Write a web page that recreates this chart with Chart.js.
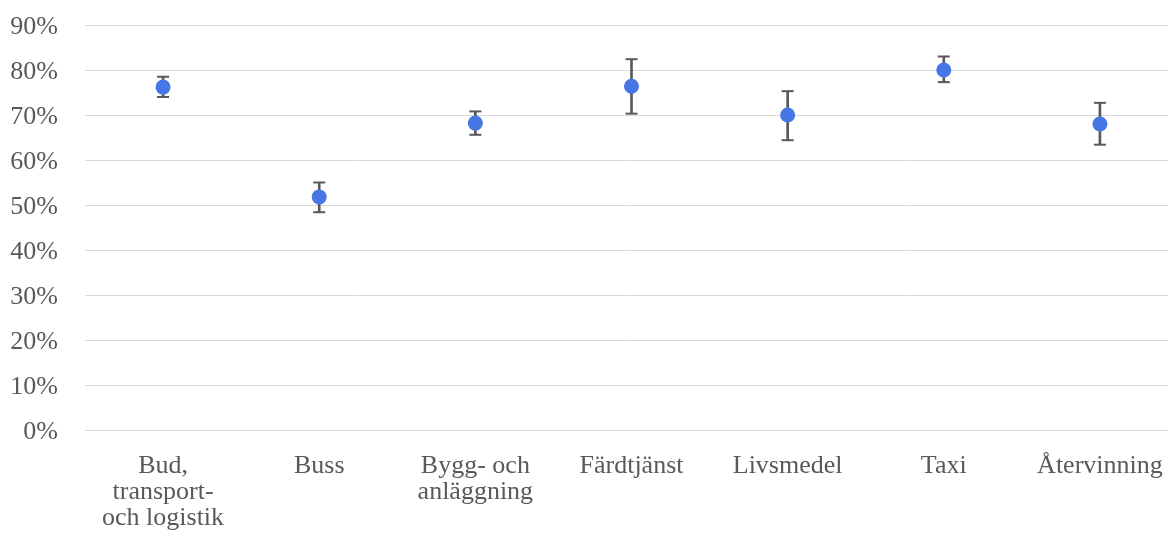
<!DOCTYPE html>
<html>
<head>
<meta charset="utf-8">
<script src="https://cdn.jsdelivr.net/npm/chart.js@4/dist/chart.umd.min.js"></script>
<style>
  html, body { margin: 0; padding: 0; background: #ffffff; overflow: hidden; }
  #wrap { position: relative; width: 1186px; height: 540px; }
</style>
</head>
<body>
<div id="wrap"><canvas id="c"></canvas></div>
<script>
const categories = [
  ['Bud,', 'transport-', 'och logistik'],
  'Buss',
  ['Bygg- och', 'anläggning'],
  'Färdtjänst',
  'Livsmedel',
  'Taxi',
  'Återvinning'
];
const values = [76.2, 51.8, 68.2, 76.4, 70.0, 80.0, 68.0];
const lower  = [74.0, 48.4, 65.6, 70.3, 64.4, 77.3, 63.4];
const upper  = [78.5, 55.0, 70.8, 82.4, 75.3, 83.0, 72.7];
const yTicks = [0, 10, 20, 30, 40, 50, 60, 70, 80, 90];

const errColor = '#595959';
const pointColor = '#4776E6';
const fontFamily = '"Liberation Serif", "Times New Roman", serif';

new Chart(document.getElementById('c'), {
  type: 'bar',
  data: {
    labels: categories,
    datasets: [
      {
        type: 'line',
        label: 'Värde',
        data: values,
        showLine: false,
        pointRadius: 7.5,
        pointHoverRadius: 7.5,
        pointBackgroundColor: pointColor,
        pointBorderWidth: 0,
        order: 0
      },
      {
        type: 'line',
        label: 'Övre',
        data: upper,
        showLine: false,
        pointStyle: 'line',
        pointRadius: 6,
        pointHoverRadius: 6,
        pointBorderColor: errColor,
        pointBorderWidth: 2,
        order: 1
      },
      {
        type: 'line',
        label: 'Nedre',
        data: lower,
        showLine: false,
        pointStyle: 'line',
        pointRadius: 6,
        pointHoverRadius: 6,
        pointBorderColor: errColor,
        pointBorderWidth: 2,
        order: 1
      },
      {
        type: 'bar',
        label: 'Intervall',
        data: lower.map((l, i) => [l, upper[i]]),
        backgroundColor: errColor,
        barThickness: 2,
        grouped: false,
        order: 2
      }
    ]
  },
  options: {
    responsive: true,
    maintainAspectRatio: false,
    animation: false,
    layout: { padding: { top: 25, right: 0, bottom: 0, left: 0 } },
    plugins: { legend: { display: false }, tooltip: { enabled: false } },
    scales: {
      x: {
        offset: true,
        grid: { display: false },
        border: { display: false },
        afterFit: (axis) => { axis.height = 110; },
        ticks: {
          color: '#595959',
          font: { family: fontFamily, size: 26, lineHeight: 1.0 },
          padding: 15,
          maxRotation: 0,
          autoSkip: false
        }
      },
      y: {
        min: 0,
        max: 90,
        afterBuildTicks: (axis) => { axis.ticks = yTicks.map(v => ({ value: v })); },
        afterFit: (axis) => { axis.width = 85; },
        grid: { color: '#d9d9d9', lineWidth: 1, drawTicks: true, tickLength: 27, tickColor: 'rgba(0,0,0,0)' },
        border: { display: false },
        ticks: {
          color: '#595959',
          font: { family: fontFamily, size: 26 },
          padding: 0,
          labelOffset: 2,
          callback: (v) => v + '%'
        }
      }
    }
  }
});
</script>
</body>
</html>
